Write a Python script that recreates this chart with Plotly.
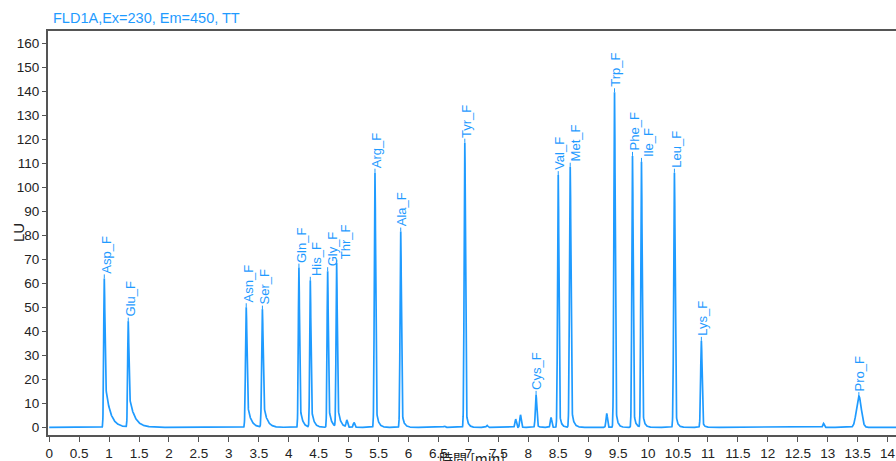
import numpy as np
import plotly.graph_objects as go

# ---- data ----
peak_names = ["Asp_F", "Glu_F", "Asn_F", "Ser_F", "Gln_F", "His_F", "Gly_F", "Thr_F",
              "Arg_F", "Ala_F", "Tyr_F", "Cys_F", "Val_F", "Met_F", "Trp_F", "Phe_F",
              "Ile_F", "Leu_F", "Lys_F", "Pro_F"]
peak_times = [0.92, 1.32, 3.29, 3.56, 4.17, 4.36, 4.65, 4.80,
              5.44, 5.87, 6.94, 8.13, 8.50, 8.70, 9.44, 9.74,
              9.89, 10.44, 10.89, 13.52]
peak_heights = [62, 44, 50, 49, 66.5, 61, 65, 68,
                106, 81.5, 118.5, 13.5, 105, 108.5, 139.5, 113,
                110.5, 106, 36, 13]
peak_sigma = [0.010, 0.010, 0.012, 0.012, 0.010, 0.010, 0.010, 0.010,
              0.011, 0.011, 0.011, 0.012, 0.011, 0.012, 0.011, 0.011,
              0.011, 0.012, 0.012, 0.040]
tail_fraction = [0.36, 0.36, 0.28, 0.28, 0.2, 0.2, 0.2, 0.2,
                 0.12, 0.12, 0.10, 0.10, 0.10, 0.12, 0.10, 0.10,
                 0.10, 0.10, 0.10, 0.0]
tail_tau = [0.08, 0.085, 0.055, 0.055, 0.04, 0.04, 0.04, 0.04,
            0.035, 0.035, 0.03, 0.03, 0.03, 0.035, 0.03, 0.03,
            0.03, 0.03, 0.03, 0.05]
label_xshift = [2, 2, 2, 2, 2, 6, 5, 9, 1, 1, 1, 1, 1, 5, 1, 2, 7, 2, 1, 1]

minor_times = [4.97, 5.09, 6.60, 7.31, 7.79, 7.87, 8.38, 9.31, 12.93]
minor_heights = [2.9, 2.0, 0.5, 0.8, 3.4, 5.2, 4.1, 5.8, 1.6]

x_ticks = [i * 0.5 for i in range(29)]
x_tick_text = ["0", "0.5", "1", "1.5", "2", "2.5", "3", "3.5", "4", "4.5", "5", "5.5",
               "6", "6.5", "7", "7.5", "8", "8.5", "9", "9.5", "10", "10.5", "11", "11.5",
               "12", "12.5", "13", "13.5", "14"]
y_ticks = list(range(0, 170, 10))

# ---- build the trace from the peak table ----
t = np.arange(0, 14.2, 0.002)
signal = np.zeros_like(t)
for tc, h, s, f, tau in zip(peak_times, peak_heights, peak_sigma, tail_fraction, tail_tau):
    dx = t - tc
    g = np.exp(-dx ** 2 / (2 * s ** 2))
    tail = np.where(dx >= 0, np.exp(-np.clip(dx, 0, None) / tau), 0.0)
    shape = np.where(dx < 0, g, (1 - f) * g + f * tail)
    signal += h * shape
for tc, h in zip(minor_times, minor_heights):
    signal += h * np.exp(-(t - tc) ** 2 / (2 * 0.012 ** 2))

BLUE = "#1f9bff"
FONT = "Liberation Sans, Arial, sans-serif"

fig = go.Figure()
fig.add_trace(go.Scatter(x=t, y=signal, mode="lines",
                         line=dict(color=BLUE, width=1.7), hoverinfo="skip",
                         showlegend=False))

for name, tc, h, xs in zip(peak_names, peak_times, peak_heights, label_xshift):
    fig.add_annotation(x=tc, y=h, text=name, showarrow=False, textangle=-90,
                       xanchor="center", yanchor="bottom", yshift=3, xshift=xs,
                       font=dict(family=FONT, size=13, color=BLUE))
    fig.add_shape(type="line", xref="x", yref="y", ysizemode="pixel", yanchor=h,
                  x0=tc, x1=tc, y0=0, y1=4, line=dict(color=BLUE, width=1))

fig.add_annotation(xref="paper", yref="paper", x=0, y=1, xanchor="left", yanchor="bottom",
                   xshift=3, yshift=3, showarrow=False,
                   text="FLD1A,Ex=230, Em=450, TT",
                   font=dict(family=FONT, size=14.5, color=BLUE))
fig.add_annotation(xref="paper", yref="paper", x=0, y=0.5, xanchor="center", yanchor="middle",
                   xshift=-30, showarrow=False, textangle=-90, text="LU",
                   font=dict(family=FONT, size=15, color="#222"))
fig.add_annotation(xref="paper", yref="paper", x=0.5, y=0, xanchor="center", yanchor="top",
                   yshift=-11, showarrow=False, text="時間 [min]",
                   font=dict(family="Noto Sans CJK JP, " + FONT, size=14, color="#222"))

fig.update_layout(
    width=896, height=461,
    margin=dict(l=48, r=0, t=31, b=23),
    paper_bgcolor="white", plot_bgcolor="white",
    font=dict(family=FONT, size=13, color="#222"),
)
fig.update_xaxes(range=[-0.02, 14.14], tickvals=x_ticks, ticktext=x_tick_text,
                 showgrid=False, zeroline=False, showline=True, linecolor="#555",
                 linewidth=2, mirror=True, ticks="outside", ticklen=5, tickcolor="#555",
                 tickfont=dict(family=FONT, size=13.5, color="#222"))
fig.update_yaxes(range=[-3.2, 165], tickvals=y_ticks,
                 showgrid=False, zeroline=False, showline=True, linecolor="#555",
                 linewidth=2, ticks="outside", ticklen=4, tickcolor="#555",
                 tickfont=dict(family=FONT, size=13.5, color="#222"))

fig.write_html("out.html", config={"displayModeBar": False},
               post_script="document.body.style.margin='0';document.body.style.overflow='hidden';")
